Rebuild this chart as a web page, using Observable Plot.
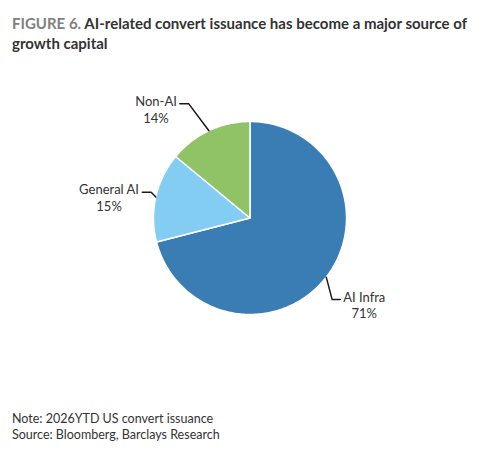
<!DOCTYPE html>
<html>
<head>
<meta charset="utf-8">
<script src="https://cdn.jsdelivr.net/npm/d3@7"></script>
<script src="https://cdn.jsdelivr.net/npm/@observablehq/plot@0.6"></script>
<style>
  html, body { margin: 0; padding: 0; background: #fff; }
  #wrap { position: relative; width: 500px; height: 459px; font-family: Lato, "Open Sans", sans-serif; }
  #title { position: absolute; left: 12px; top: 13px; width: 485px; font-weight: 700; font-size: 15px; line-height: 20px; color: #333; white-space: nowrap; }
  #title .fig { color: #808080; }
  #chart { position: absolute; left: 0; top: 60px; }
  #caption { position: absolute; left: 12px; top: 411px; font-size: 12.5px; line-height: 16px; color: #333; }
</style>
</head>
<body>
<div id="wrap">
  <div id="title">
    <div><span class="fig">FIGURE 6.</span> <span>AI-related convert issuance has become a major source of</span></div>
    <div>growth capital</div>
  </div>
  <div id="chart"></div>
  <div id="caption"><div>Note: 2026YTD US convert issuance</div><div>Source: Bloomberg, Barclays Research</div></div>
</div>
<script>
// ---- data ----
const names = ["AI Infra", "General AI", "Non-AI"];
const shares = [71, 15, 14];
const pctLabels = ["71%", "15%", "14%"];
const colors = ["#3a7db5", "#84cdf2", "#90c366"];

// ---- layout (not data) ----
const leaderOut = [1.2, 1.058, 1.342];      // elbow radius (in pie radii)
const leaderTurn = [7, 2, -3];              // elbow angle offset from slice middle (degrees)
const leaderTail = [0.083, 0.093, 0.093];   // horizontal tail length (in pie radii)
const radiusPx = 96.5;
const fontSize = 13;
const fontFamily = "Lato";

const total = d3.sum(shares);
let cum = 0;
const slices = names.map((n, i) => {
  const a0 = cum / total * 2 * Math.PI;
  cum += shares[i];
  const a1 = cum / total * 2 * Math.PI;
  return {name: n, a0, a1, mid: (a0 + a1) / 2, i};
});

// polygon points for each slice (clockwise from 12 o'clock)
const piePts = [];
for (const s of slices) {
  piePts.push({name: s.name, x: 0, y: 0});
  const steps = Math.max(2, Math.ceil((s.a1 - s.a0) / (Math.PI / 180)));
  for (let k = 0; k <= steps; k++) {
    const a = s.a0 + (s.a1 - s.a0) * k / steps;
    piePts.push({name: s.name, x: Math.sin(a), y: Math.cos(a)});
  }
  piePts.push({name: s.name, x: 0, y: 0});
}

// leader lines
const leaderPts = [];
const labelInfo = [];
for (const s of slices) {
  const ex = Math.sin(s.mid), ey = Math.cos(s.mid);
  const r = leaderOut[s.i];
  const ea = s.mid + leaderTurn[s.i] * Math.PI / 180;
  const bx = Math.sin(ea) * r, by = Math.cos(ea) * r;
  const side = ex < 0 ? -1 : 1;
  const tx = bx + side * leaderTail[s.i];
  leaderPts.push({name: s.name, x: ex, y: ey});
  leaderPts.push({name: s.name, x: bx, y: by});
  leaderPts.push({name: s.name, x: tx, y: by});
  labelInfo.push({name: s.name, pct: pctLabels[s.i], x: tx, y: by, side});
}

const ctx = document.createElement("canvas").getContext("2d");
ctx.font = `${fontSize}px ${fontFamily}`;

const textMarks = labelInfo.map(l => {
  const w = ctx.measureText(l.name).width;
  return Plot.text([l], {
    x: "x", y: "y",
    text: d => d.name + "\n" + d.pct,
    textAnchor: "middle",
    lineAnchor: "top",
    lineHeight: 1.3,
    dx: l.side * (3 + w / 2),
    dy: -10,
    fontSize,
    fontFamily,
    fill: "#333"
  });
});

const chart = Plot.plot({
  width: 500,
  height: 340,
  x: {domain: [-1, 1], range: [153, 153 + 2 * radiusPx], axis: null},
  y: {domain: [-1, 1], range: [157.5 + radiusPx, 157.5 - radiusPx], axis: null},
  color: {domain: names, range: colors},
  marks: [
    Plot.line(piePts, {x: "x", y: "y", z: "name", fill: "name", stroke: "white", strokeWidth: 1.5, strokeLinejoin: "round"}),
    Plot.line(leaderPts, {x: "x", y: "y", z: "name", stroke: "#1a1a1a", strokeWidth: 1.5}),
    ...textMarks
  ]
});
document.getElementById("chart").appendChild(chart);
</script>
</body>
</html>
